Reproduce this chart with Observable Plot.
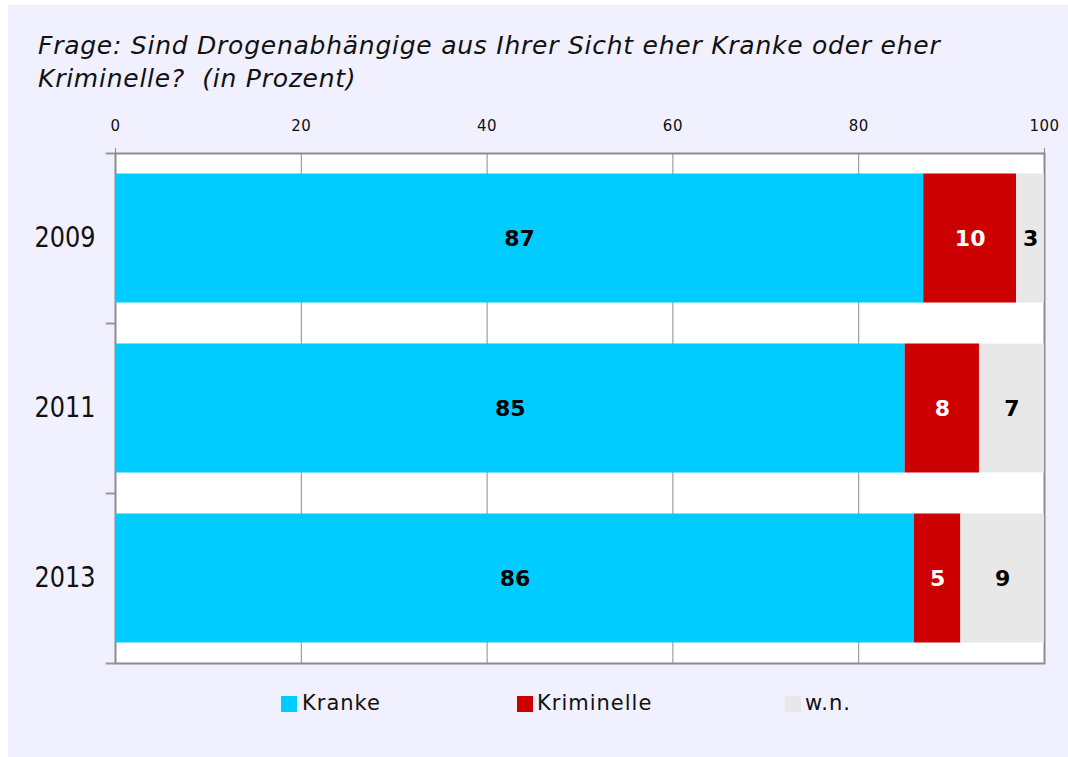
<!DOCTYPE html>
<html><head><meta charset="utf-8">
<script src="https://cdn.jsdelivr.net/npm/d3@7"></script>
<script src="https://cdn.jsdelivr.net/npm/@observablehq/plot@0.6"></script>
<style>
body{margin:0;background:#fff;width:1068px;height:757px;overflow:hidden;font-family:"DejaVu Sans",sans-serif;}
#panel{position:absolute;left:8px;top:5px;width:1060px;height:752px;background:#F0F0FE;}
#title{position:absolute;left:30px;top:24px;font-style:italic;font-size:25px;line-height:33px;letter-spacing:0.75px;white-space:pre;color:#111;}
#chart{position:absolute;left:0;top:95px;}
.sw{position:absolute;width:16px;height:16px;top:691px;}
.lt{position:absolute;top:688px;font-size:21px;line-height:21px;color:#111;letter-spacing:1px;white-space:pre;}
</style></head>
<body>
<div id="panel">
  <div id="title">Frage: Sind Drogenabhängige aus Ihrer Sicht eher Kranke oder eher
Kriminelle?  (in Prozent)</div>
  <div id="chart"></div>
  <div class="sw" style="left:273px;background:#00CCFF"></div><div class="lt" style="left:294px">Kranke</div>
  <div class="sw" style="left:509px;background:#CC0000"></div><div class="lt" style="left:529px">Kriminelle</div>
  <div class="sw" style="left:777px;background:#E8E8E8"></div><div class="lt" style="left:797px">w.n.</div>
</div>
<script>
const years = ["2009", "2011", "2013"];
const kranke = [87, 85, 86];
const kriminelle = [10, 8, 5];
const wn = [3, 7, 9];
const categories = ["Kranke", "Kriminelle", "w.n."];
const colors = ["#00CCFF", "#CC0000", "#E8E8E8"];
const xTicks = [0, 20, 40, 60, 80, 100];
const gridTicks = [20, 40, 60, 80];

const series = [kranke, kriminelle, wn];
const data = years.flatMap((y, i) => categories.map((c, j) => ({year: y, cat: c, value: series[j][i]})));

const chart = Plot.plot({
  width: 1060,
  height: 580,
  marginLeft: 107,
  marginRight: 24,
  marginTop: 53,
  marginBottom: 17,
  style: {fontFamily: "DejaVu Sans", background: "transparent", color: "#111"},
  x: {domain: [0, 100], axis: null},
  y: {domain: years, padding: 0, axis: null},
  color: {domain: categories, range: colors},
  marks: [
    Plot.frame({fill: "white"}),
    Plot.ruleX(gridTicks, {stroke: "#8a8a8a", strokeWidth: 1}),
    Plot.frame({stroke: "#8c8c8c", strokeWidth: 2}),
    Plot.barX(data, Plot.stackX({x: "value", y: "year", fill: "cat", insetTop: 20.5, insetBottom: 20.5})),
    Plot.text(data, Plot.stackX({x: "value", y: "year", text: d => d.cat === "Kriminelle" ? "" : String(d.value), fill: "black", fontWeight: "bold", fontSize: 22})),
    Plot.text(data, Plot.stackX({x: "value", y: "year", text: d => d.cat === "Kriminelle" ? String(d.value) : "", fill: "white", fontWeight: "bold", fontSize: 22})),
    Plot.ruleY(years, {y: d => d, x1: -1, x2: 0, dy: -85, stroke: "#999", strokeWidth: 2}),
    Plot.ruleY([years[years.length - 1]], {y: d => d, x1: -1, x2: 0, dy: 85, stroke: "#999", strokeWidth: 2}),
    Plot.axisX({anchor: "top", ticks: xTicks, tickSize: 0, tickPadding: 23, fontSize: 15, label: null}),
    Plot.axisX({anchor: "top", ticks: [0, 100], tickSize: 6, text: null, stroke: "#888", label: null}),
    Plot.axisY({tickSize: 0, tickPadding: 20, fontSize: 24, label: null})
  ]
});
document.getElementById("chart").appendChild(chart);
d3.select(chart).selectAll('g[aria-label="y-axis tick label"] text').each(function() {
  const t = this.getAttribute("transform") || "";
  this.setAttribute("transform", t + " scale(1,1.15)");
});
d3.select(chart).selectAll('g[aria-label="x-axis tick label"] text').style("letter-spacing", "0.5px");
</script>
</body></html>
